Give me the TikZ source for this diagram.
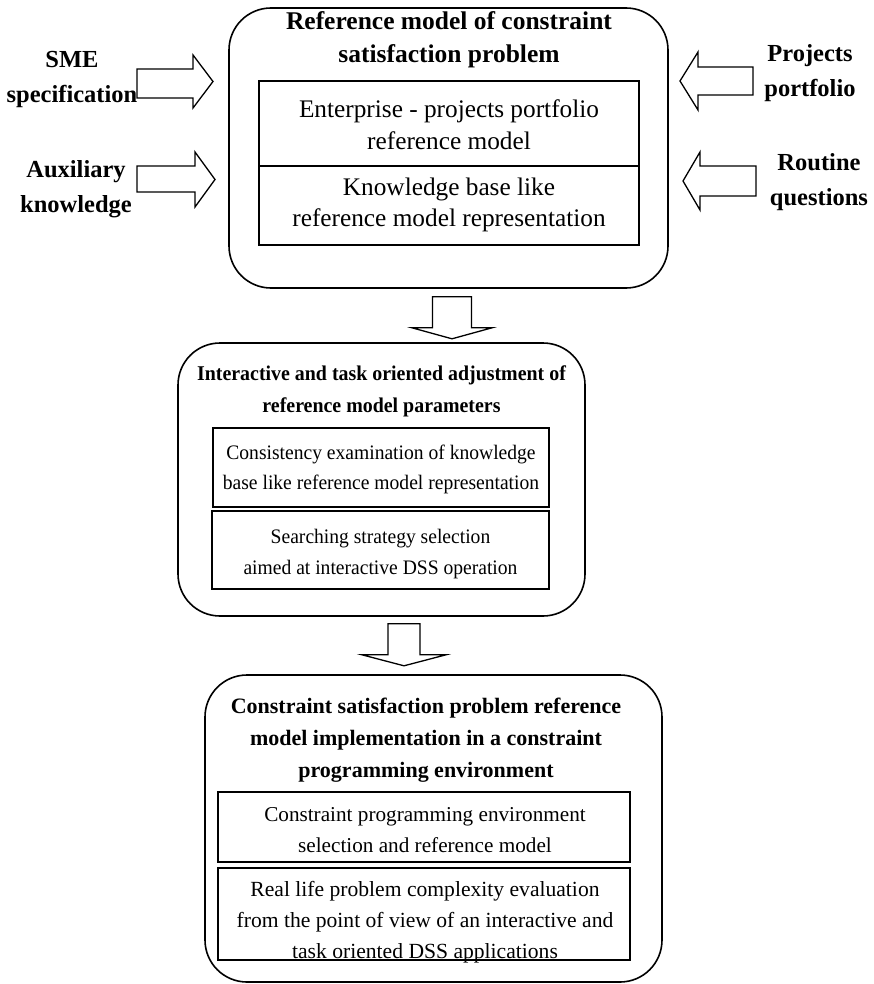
\documentclass[tikz,border=0pt]{standalone}
\usepackage{fontspec}
\usepackage{graphicx}
\setmainfont{Liberation Serif}
\usetikzlibrary{calc}
\newcommand{\condensed}[2]{\scalebox{#1}[1]{\begin{tabular}{@{}c@{}}#2\end{tabular}}}
\begin{document}
\begin{tikzpicture}[x=1pt,y=-1pt,
 outer/.style={draw, line width=1.6pt, rounded corners=42pt, inner sep=0pt},
 innerbox/.style={draw, line width=1.4pt, inner sep=0pt},
 boxtext/.style={align=center, inner sep=0pt},
 titletext/.style={align=center, inner sep=0pt},
 sidetext/.style={align=center, font=\bfseries\fontsize{24.5}{35}\selectfont, inner sep=0pt},
 barrow/.style={draw, line width=1.3pt, fill=white, line join=miter}]
\useasboundingbox (0,0) rectangle (874,984);

% top block
\node[outer, minimum width=439pt, minimum height=280pt] (b1) at (448.5,148) {};
\node[titletext, font=\bfseries\fontsize{25.5}{33}\selectfont] (t1) at (449,40) {Reference model of constraint\\satisfaction problem};
\node[innerbox, minimum width=380pt, minimum height=85pt] (e1) at (449,123.5) {};
\node[boxtext, font=\fontsize{25.3}{32}\selectfont] (e1t) at (449,124.5) {Enterprise - projects portfolio\\reference model};
\node[innerbox, minimum width=380pt, minimum height=79pt] (e2) at (449,205.5) {};
\node[boxtext, font=\fontsize{25.3}{31}\selectfont] (e2t) at (449,204.5) {Knowledge base like\\reference model representation};

% middle block
\node[outer, minimum width=407pt, minimum height=273pt] (b2) at (381.5,479.5) {};
\node[titletext, font=\bfseries\fontsize{21}{32}\selectfont] (t2) at (381.5,390) {\condensed{0.948}{Interactive and task oriented adjustment of\\reference model parameters}};
\node[innerbox, minimum width=336pt, minimum height=79pt] (m1) at (381,467.5) {};
\node[boxtext, font=\fontsize{20.6}{30}\selectfont] (m1t) at (381,468) {\condensed{0.95}{Consistency examination of knowledge\\base like reference model representation}};
\node[innerbox, minimum width=337pt, minimum height=78pt] (m2) at (380.5,550) {};
\node[boxtext, font=\fontsize{20.6}{31}\selectfont] (m2t) at (380.5,552.5) {\condensed{0.95}{Searching strategy selection\\aimed at interactive DSS operation}};

% bottom block
\node[outer, minimum width=457pt, minimum height=307pt] (b3) at (433.5,828.5) {};
\node[titletext, font=\bfseries\fontsize{22}{32}\selectfont] (t3) at (426,740.5) {Constraint satisfaction problem reference\\model implementation in a constraint\\programming environment};
\node[innerbox, minimum width=412pt, minimum height=70pt] (c1) at (424,827) {};
\node[boxtext, font=\fontsize{21.2}{31}\selectfont] (c1t) at (425,830) {Constraint programming environment\\selection and reference model};
\node[innerbox, minimum width=412pt, minimum height=92pt] (c2) at (424,914) {};
\node[boxtext, font=\fontsize{21.6}{31}\selectfont] (c2t) at (425,922) {Real life problem complexity evaluation\\from the point of view of an interactive and\\task oriented DSS applications};

% side labels
\node[sidetext] (sme) at (72,79) {SME\\specification};
\node[sidetext] (aux) at (76,189) {Auxiliary\\knowledge};
\node[sidetext] (pro) at (810,73) {Projects\\portfolio};
\node[sidetext] (rou) at (819,182) {Routine\\questions};

% side block arrows
\draw[barrow] (137,69) -- (193,69) -- (193,55) -- (213,81.5) -- (193,108) -- (193,98) -- (137,98) -- cycle;
\draw[barrow] (137,166) -- (195,166) -- (195,152) -- (215,179.5) -- (195,207) -- (195,192) -- (137,192) -- cycle;
\draw[barrow] (753,67) -- (698,67) -- (698,52) -- (680,81) -- (698,110) -- (698,95) -- (753,95) -- cycle;
\draw[barrow] (756,166) -- (700,166) -- (700,152) -- (683,181) -- (700,210) -- (700,196) -- (756,196) -- cycle;

% down block arrows between blocks
\coordinate (d1) at ($(b1.south)+(3.5,8)$);
\draw[barrow] ($(d1)+(-19.5,0)$) -- ($(d1)+(19.5,0)$) -- ($(d1)+(19.5,31)$) -- ($(d1)+(40,31)$) -- ($(d1)+(0,42)$) -- ($(d1)+(-40,31)$) -- ($(d1)+(-19.5,31)$) -- cycle;
\coordinate (d2) at ($(b2.south)+(22.5,7)$);
\draw[barrow] ($(d2)+(-16,0)$) -- ($(d2)+(16,0)$) -- ($(d2)+(16,31)$) -- ($(d2)+(42,31)$) -- ($(d2)+(0,42)$) -- ($(d2)+(-42,31)$) -- ($(d2)+(-16,31)$) -- cycle;
\end{tikzpicture}
\end{document}
